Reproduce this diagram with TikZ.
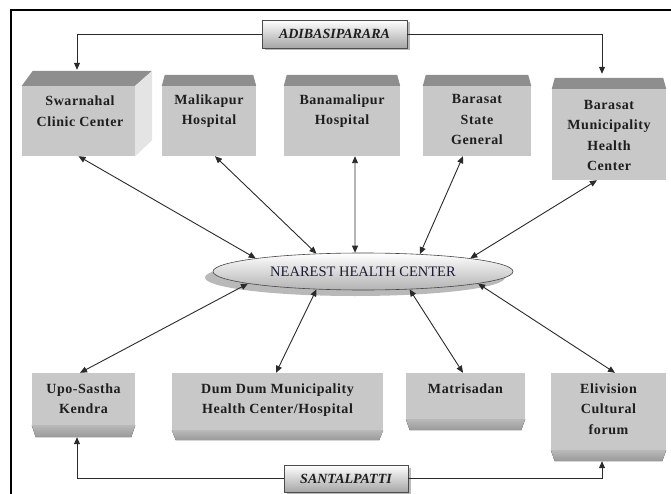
\documentclass[tikz,border=0pt]{standalone}
\usepackage{fontspec}
\setmainfont{Liberation Serif}
\newfontfamily\lblfont[LetterSpace=4]{Liberation Serif}
\usetikzlibrary{shapes.geometric,arrows.meta,shadows}
\definecolor{facec}{HTML}{C8C8C8}
\definecolor{bandc}{HTML}{8E8E8E}
\definecolor{sidec}{HTML}{E4E4E4}
\definecolor{linec}{HTML}{2A2A2A}
\definecolor{txtc}{HTML}{1E1E1E}
\definecolor{navyc}{HTML}{1C1C34}
\tikzset{
  face/.style={rectangle, draw=none, fill=facec, inner sep=0pt},
  topband/.style={fill=bandc},
  botband/.style={top color=gray!55, bottom color=gray!80},
  lbl/.style={font=\lblfont\bfseries\fontsize{14}{20.5}\selectfont, align=center, anchor=north, inner sep=0pt, text=txtc},
  conn/.style={draw=linec, line width=0.9pt, >={Triangle[length=7pt,width=6pt]}},
  tag/.style={rectangle, draw=gray!60!black, line width=0.6pt, top color=white, bottom color=gray!70,
    drop shadow={shadow xshift=2.5pt, shadow yshift=-2.5pt, fill=gray!55, opacity=1},
    font=\bfseries\itshape\fontsize{14}{16}\selectfont, text=txtc, inner sep=0pt},
  hub/.style={ellipse, draw=gray!55!black, line width=0.6pt, top color=white, bottom color=gray!60,
    drop shadow={shadow xshift=-8pt, shadow yshift=-6pt, fill=gray!55, opacity=1},
    minimum width=300pt, minimum height=37pt, inner sep=0pt,
    font=\fontsize{14.5}{16}\selectfont, text=navyc}
}
\begin{document}
\begin{tikzpicture}[x=1pt,y=-1pt]
\useasboundingbox (0,0) rectangle (671,494);
\clip (0,0) rectangle (671,494);
\draw[line width=1.5pt] (11,10) rectangle (700,520);

% top row faces
\node[face, minimum width=113pt, minimum height=70pt] (sw) at (78.5,121) {};
\node[face, minimum width=94pt, minimum height=70pt] (ml) at (209,121) {};
\node[face, minimum width=116pt, minimum height=70pt] (bm) at (342,121) {};
\node[face, minimum width=108pt, minimum height=70pt] (bs) at (477,121) {};
\node[face, minimum width=114pt, minimum height=91pt] (bmu) at (609,134.5) {};

% Swarnahal cube parts
\fill[topband] (sw.north west) -- ([xshift=11pt,yshift=15pt]sw.north west) -- ([xshift=17pt,yshift=15pt]sw.north east) -- (sw.north east) -- cycle;
\fill[sidec] (sw.north east) -- ([xshift=17pt,yshift=15pt]sw.north east) -- ([xshift=17pt,yshift=16pt]sw.south east) -- (sw.south east) -- cycle;
% top bands
\foreach \b in {ml,bm,bs,bmu}{
  \fill[topband] (\b.north west) -- ([xshift=3pt,yshift=11pt]\b.north west) -- ([xshift=-3pt,yshift=11pt]\b.north east) -- (\b.north east) -- cycle;
}

% bottom row faces
\node[face, minimum width=103pt, minimum height=52pt] (up) at (83.5,399) {};
\node[face, minimum width=211pt, minimum height=57pt] (dd) at (277.5,401.5) {};
\node[face, minimum width=119pt, minimum height=46pt] (ma) at (465.5,396) {};
\node[face, minimum width=115pt, minimum height=77pt] (el) at (608.5,411.5) {};
\foreach \b/\h in {up/12pt,dd/10pt,ma/11pt,el/11pt}{
  \fill[botband] (\b.south west) -- ([xshift=4pt,yshift=-\h]\b.south west) -- ([xshift=-4pt,yshift=-\h]\b.south east) -- (\b.south east) -- cycle;
}

% labels
\node[lbl] (swt) at (80,96) {Swarnahal\\Clinic Center};
\node[lbl] (mlt) at (209,94.5) {Malikapur\\Hospital};
\node[lbl] (bmt) at (342,94.5) {Banamalipur\\Hospital};
\node[lbl] (bst) at (477,94.5) {Barasat\\State\\General};
\node[lbl] (bmut) at (609,100) {Barasat\\Municipality\\Health\\Center};
\node[lbl] (upt) at (83.5,383.5) {Upo-Sastha\\Kendra};
\node[lbl] (ddt) at (277.5,383.5) {Dum Dum Municipality\\Health Center/Hospital};
\node[lbl] (mat) at (465.5,383.5) {Matrisadan};
\node[lbl] (elt) at (608.5,383.5) {Elivision\\Cultural\\forum};

% hub
\node[hub] (nhc) at (363,271.5) {NEAREST HEALTH CENTER};

% tags
\node[tag, minimum width=145pt, minimum height=28pt] (adi) at (334.5,34) {ADIBASIPARARA};
\node[tag, minimum width=124pt, minimum height=27pt] (sa) at (346,478.5) {SANTALPATTI};

% tag connectors
\draw[conn,->] (adi.west) -| ([xshift=-1.5pt,yshift=16pt]sw.north);
\draw[conn,->] (adi.east) -| ([xshift=-7pt,yshift=15pt]bmu.north);
\draw[conn,->] (sa.west) -| ([xshift=-6.5pt,yshift=-12pt]up.south);
\draw[conn,->] (sa.east) -| ([xshift=-6.5pt,yshift=-11pt]el.south);

% hub connectors
\draw[conn,<->] (sw.south) -- (nhc.173);
\draw[conn,<->] ([xshift=6pt]ml.south) -- (nhc.159);
\draw[conn,<->] ([xshift=13pt]bm.south) -- (nhc.113);
\draw[conn,<->] ([xshift=-14pt]bs.south) -- (nhc.17);
\draw[conn,<->] ([xshift=-12pt]bmu.south) -- (nhc.7);
\draw[conn,<->] ([xshift=-3.5pt]up.north) -- (nhc.186);
\draw[conn,<->] ([xshift=-1.5pt]dd.north) -- (nhc.201);
\draw[conn,<->] ([xshift=-2.5pt]ma.north) -- (nhc.339);
\draw[conn,<->] ([xshift=6.5pt]el.north) -- (nhc.354);
\end{tikzpicture}
\end{document}
